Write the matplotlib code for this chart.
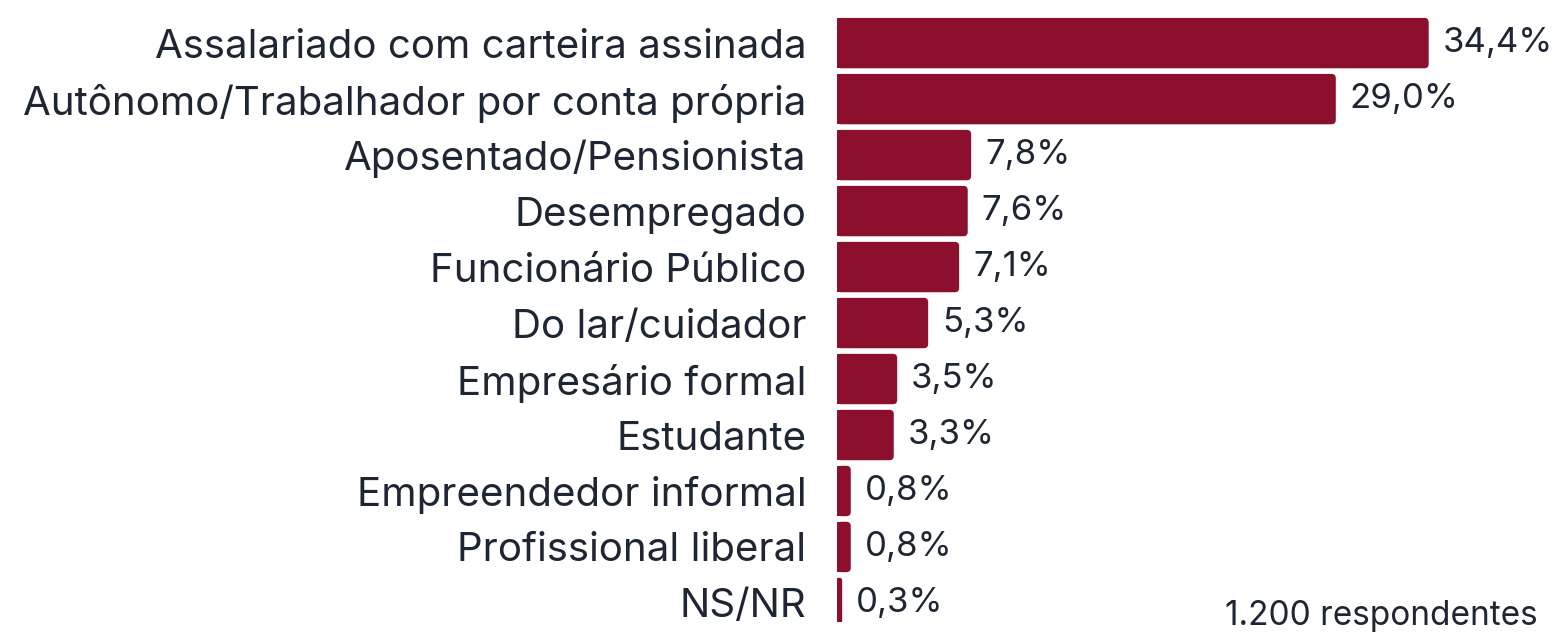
import matplotlib
matplotlib.use("Agg")
import matplotlib.pyplot as plt
from matplotlib.patches import FancyBboxPatch, Rectangle

# data
categories = [
    "Assalariado com carteira assinada",
    "Autônomo/Trabalhador por conta própria",
    "Aposentado/Pensionista",
    "Desempregado",
    "Funcionário Público",
    "Do lar/cuidador",
    "Empresário formal",
    "Estudante",
    "Empreendedor informal",
    "Profissional liberal",
    "NS/NR",
]
values = [34.4, 29.0, 7.8, 7.6, 7.1, 5.3, 3.5, 3.3, 0.8, 0.8, 0.3]
value_labels = ["34,4%", "29,0%", "7,8%", "7,6%", "7,1%", "5,3%", "3,5%", "3,3%", "0,8%", "0,8%", "0,3%"]
note = "1.200 respondentes"

bar_color = "#8C0F2E"
text_color = "#1E2633"

plt.rcParams["font.family"] = ["Inter", "DejaVu Sans"]

W, H = 1560, 633
fig = plt.figure(figsize=(W / 100, H / 100), dpi=100)
ax = fig.add_axes([837 / W, 11 / H, 1 - 837 / W, 622 / H])

ypos = list(range(len(categories)))
bars = ax.barh(ypos, values, height=0.9, color=bar_color)

# swap plain rectangles for ones with rounded right corners
r_x = 0.25  # rounding in x data units
aspect = (4 / 56) / (4 / 17.2)
for b in bars:
    x0, y0 = b.get_x(), b.get_y()
    w, h = b.get_width(), b.get_height()
    b.set_visible(False)
    rnd = min(r_x, w / 2)
    ax.add_patch(FancyBboxPatch((x0, y0), w, h,
                                boxstyle="round,pad=0,rounding_size=%f" % rnd,
                                mutation_aspect=aspect, fc=bar_color, ec="none"))
    ax.add_patch(Rectangle((x0, y0), min(w / 2, r_x + 0.05), h, fc=bar_color, ec="none"))

for y, v, lab in zip(ypos, values, value_labels):
    ax.annotate(lab, (v, y), xytext=(10, 0), textcoords="offset points",
                va="center", ha="left", fontsize=25, color=text_color)

ax.set_xlim(0, (W - 837) / 17.2)
ax.set_ylim(10.34, -0.77)
ax.set_yticks(ypos)
ax.set_yticklabels(categories, fontsize=29, color=text_color)
ax.tick_params(axis="y", length=0, pad=22)
ax.set_xticks([])
for s in ax.spines.values():
    s.set_visible(False)

fig.text(1538 / W, 1 - 625 / H, note, ha="right", va="baseline", fontsize=24, color=text_color)

fig.savefig("out.png", dpi=100)
